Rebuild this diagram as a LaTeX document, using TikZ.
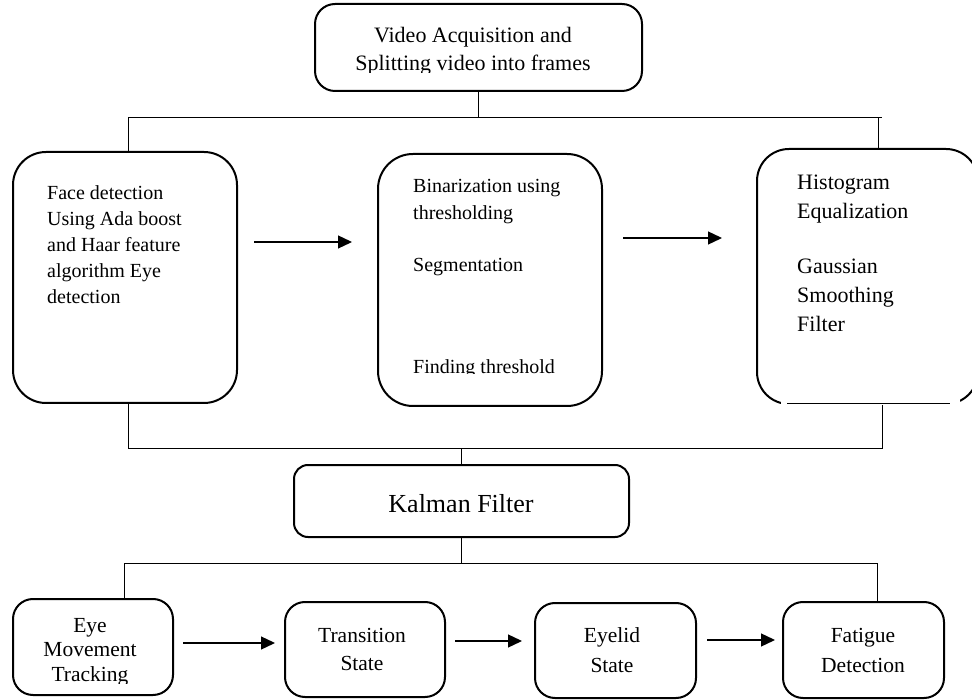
\documentclass[tikz,border=0pt]{standalone}
\usepackage{fontspec}
\setmainfont{Liberation Serif}
\usetikzlibrary{arrows.meta}
\begin{document}
\begin{tikzpicture}[x=1pt,y=-1pt,
  box/.style={draw, line width=2pt, rectangle, inner sep=0pt},
  conn/.style={line width=1pt},
  arr/.style={line width=1.3pt, -{Triangle[length=14pt,width=13pt]}},
  ltxt/.style={inner sep=0pt, align=left, anchor=north west},
  ctxt/.style={inner sep=0pt, align=center, anchor=north}]
\useasboundingbox (0,0) rectangle (972,700);
\clip (0,0) rectangle (972,700);

% boxes
\node[box, rounded corners=20pt, minimum width=327pt, minimum height=87pt] (video) at (478.5,47.5) {};
\node[box, rounded corners=33pt, minimum width=224pt, minimum height=251pt] (face) at (125,277.5) {};
\node[box, rounded corners=35pt, minimum width=224pt, minimum height=252pt] (bin) at (490,280) {};
\node[box, rounded corners=32pt, minimum width=221pt, minimum height=255pt] (hist) at (867.5,276.5) {};
\fill[white] (781,399) rectangle (960,410);
\draw[conn] (787,404) -- (950,404);
\node[box, rounded corners=14pt, minimum width=335pt, minimum height=72pt] (kalman) at (461.5,501) {};
\node[box, rounded corners=20pt, minimum width=160pt, minimum height=96pt] (eye) at (93,647) {};
\node[box, rounded corners=20pt, minimum width=160pt, minimum height=95pt] (trans) at (365,649.5) {};
\node[box, rounded corners=20pt, minimum width=161pt, minimum height=95pt] (eyelid) at (615.5,650.5) {};
\node[box, rounded corners=20pt, minimum width=161pt, minimum height=96pt] (fatigue) at (863.5,650) {};

% texts
\begin{scope}
  \clip (316,5) rectangle (641,73);
  \node[ctxt, font=\fontsize{22}{28}\selectfont] (videotxt) at (473,22.4) {\strut Video Acquisition and\\Splitting video into frames};
\end{scope}
\node[ltxt, font=\fontsize{20}{26}\selectfont] (facetxt) at (47,180.8) {\strut Face detection\\Using Ada boost\\and Haar feature\\algorithm Eye\\detection};
\begin{scope}
  \clip (380,156) rectangle (600,374);
  \node[ltxt, font=\fontsize{20}{27}\selectfont] (bintxt) at (413,173.1) {\strut Binarization using\\thresholding\\[25pt]Segmentation\\[75pt]Finding threshold};
\end{scope}
\node[ltxt, font=\fontsize{22}{29}\selectfont] (histtxt) at (797,168.7) {\strut Histogram\\Equalization\\[26pt]Gaussian\\Smoothing\\Filter};
\node[inner sep=0pt, anchor=base, font=\fontsize{26}{30}\selectfont] (kalmantxt) at (461,512) {Kalman Filter};
\begin{scope}
  \clip (15,601) rectangle (171,683);
  \node[ctxt, font=\fontsize{21.5}{24.5}\selectfont] (eyetxt) at (90,614.85) {\strut Eye\\Movement\\Tracking};
\end{scope}
\node[ctxt, font=\fontsize{21.5}{28}\selectfont] (transtxt) at (362,622.4) {\strut Transition\\State};
\node[ctxt, font=\fontsize{21.5}{30}\selectfont] (eyelidtxt) at (612,621) {\strut Eyelid\\State};
\node[ctxt, font=\fontsize{21.5}{30}\selectfont] (fatiguetxt) at (863,621) {\strut Fatigue\\Detection};

% bus lines
\coordinate (b1L) at (128,118);
\coordinate (b1R) at (882,118);
\coordinate (b1r) at (878,118);
\draw[conn] (video.south) -- (video.south |- b1L);
\draw[conn] (b1L) -- (b1R);
\draw[conn] (b1L) -- (b1L |- face.north);
\draw[conn] (b1r) -- (b1r |- hist.north);

\coordinate (b2L) at (128,448);
\coordinate (b2R) at (882,448);
\draw[conn] (b2L |- face.south) -- (b2L) -- (b2R) -- (b2R |- hist.south);
\draw[conn] (kalman.north) -- (kalman.north |- b2L);

\coordinate (b3L) at (124,563);
\coordinate (b3R) at (877,563);
\draw[conn] (b3L |- eye.north) -- (b3L) -- (b3R) -- (b3R |- fatigue.north);
\draw[conn] (kalman.south) -- (kalman.south |- b3L);

% arrows
\coordinate (a1s) at (254,242); \coordinate (a1e) at (352,242);
\coordinate (a2s) at (623,238); \coordinate (a2e) at (722,238);
\coordinate (c1s) at (183,643); \coordinate (c1e) at (275,643);
\coordinate (c2s) at (455,641); \coordinate (c2e) at (522,641);
\coordinate (c3s) at (707,640); \coordinate (c3e) at (775,640);
\draw[arr] (a1s) -- (a1e);
\draw[arr] (a2s) -- (a2e);
\draw[arr] (c1s) -- (c1e);
\draw[arr] (c2s) -- (c2e);
\draw[arr] (c3s) -- (c3e);
\end{tikzpicture}
\end{document}
